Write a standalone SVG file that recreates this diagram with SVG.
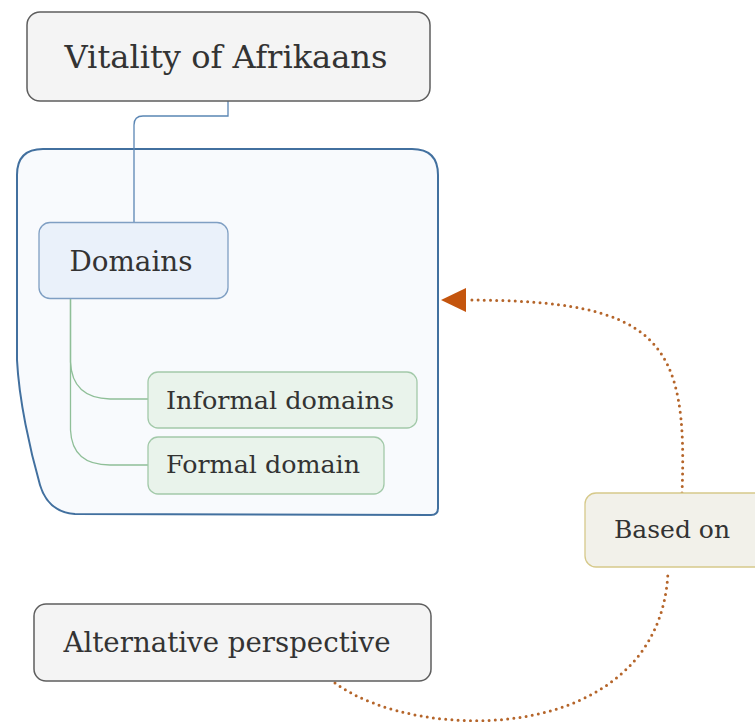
<svg xmlns="http://www.w3.org/2000/svg" width="755" height="722" viewBox="0 0 755 722">
<style>
text{font-family:"DejaVu Serif","Liberation Serif",serif;fill:#333;text-anchor:middle}
.gray{fill:#f4f4f4;stroke:#5e5e5e;stroke-width:1.5}
.blue{fill:#eaf1fa;stroke:#7f9fc3;stroke-width:1.3}
.green{fill:#e9f3eb;stroke:#a2c9a9;stroke-width:1.3}
.tan{fill:#f2f1ea;stroke:#d6c98a;stroke-width:1.3}
.dots{fill:none;stroke:#b5652a;stroke-width:3;stroke-linecap:round;stroke-dasharray:0 6.2}
</style>
<defs>
<marker id="arr" markerUnits="userSpaceOnUse" markerWidth="30" markerHeight="30" viewBox="0 -15 30 30" refX="0" refY="0" orient="auto">
<path d="M0,-12 L25,0 L0,12 z" fill="#c4550e"/>
</marker>
</defs>
<rect width="755" height="722" fill="#fff"/>
<g id="boundary">
<path d="M43,149 L412,149 Q438,149 438,175 L438,508 Q438,515 431,515 L75,514 Q48,512 40,485 C30,450 19,400 17,360 L17,175 Q17,149 43,149 Z" fill="#f8fafd" stroke="#42709f" stroke-width="2"/>
</g>
<g id="connectors">
<path d="M228,101 L228,116 L143,116 Q134,116 134,125 L134,223" fill="none" stroke="#5a86b4" stroke-width="1.3"/>
<path d="M70.5,299 L70.5,362 Q72,398 110,399 L148,399" fill="none" stroke="#8fbf98" stroke-width="1.3"/>
<path d="M70.5,299 L70.5,430 Q72,465 110,465 L148,465" fill="none" stroke="#8fbf98" stroke-width="1.3"/>
<path class="dots" d="M335,683 C420,745 660,745 668,572"/>
<path class="dots" d="M682,493 C688,340 660,300 466,300" marker-end="url(#arr)"/>
</g>
<g id="vitality">
<rect class="gray" x="27" y="12" width="403" height="89" rx="13"/>
<text x="226" y="68" font-size="32" textLength="323" lengthAdjust="spacingAndGlyphs">Vitality of Afrikaans</text>
</g>
<g id="domains">
<rect class="blue" x="39" y="222.5" width="189" height="76" rx="11"/>
<text x="131" y="271" font-size="27" textLength="123" lengthAdjust="spacingAndGlyphs">Domains</text>
</g>
<g id="informal">
<rect class="green" x="148" y="372" width="269" height="56" rx="10"/>
<text x="280" y="409" font-size="25" textLength="228" lengthAdjust="spacingAndGlyphs">Informal domains</text>
</g>
<g id="formal">
<rect class="green" x="148" y="437" width="236" height="57" rx="10"/>
<text x="263" y="473" font-size="25" textLength="194" lengthAdjust="spacingAndGlyphs">Formal domain</text>
</g>
<g id="basedon">
<rect class="tan" x="585" y="493" width="185" height="74" rx="11"/>
<text x="672" y="538" font-size="24" textLength="116" lengthAdjust="spacingAndGlyphs">Based on</text>
</g>
<g id="alternative">
<rect class="gray" x="34" y="604" width="397" height="77" rx="12"/>
<text x="227" y="652" font-size="27" textLength="327" lengthAdjust="spacingAndGlyphs">Alternative perspective</text>
</g>
</svg>
